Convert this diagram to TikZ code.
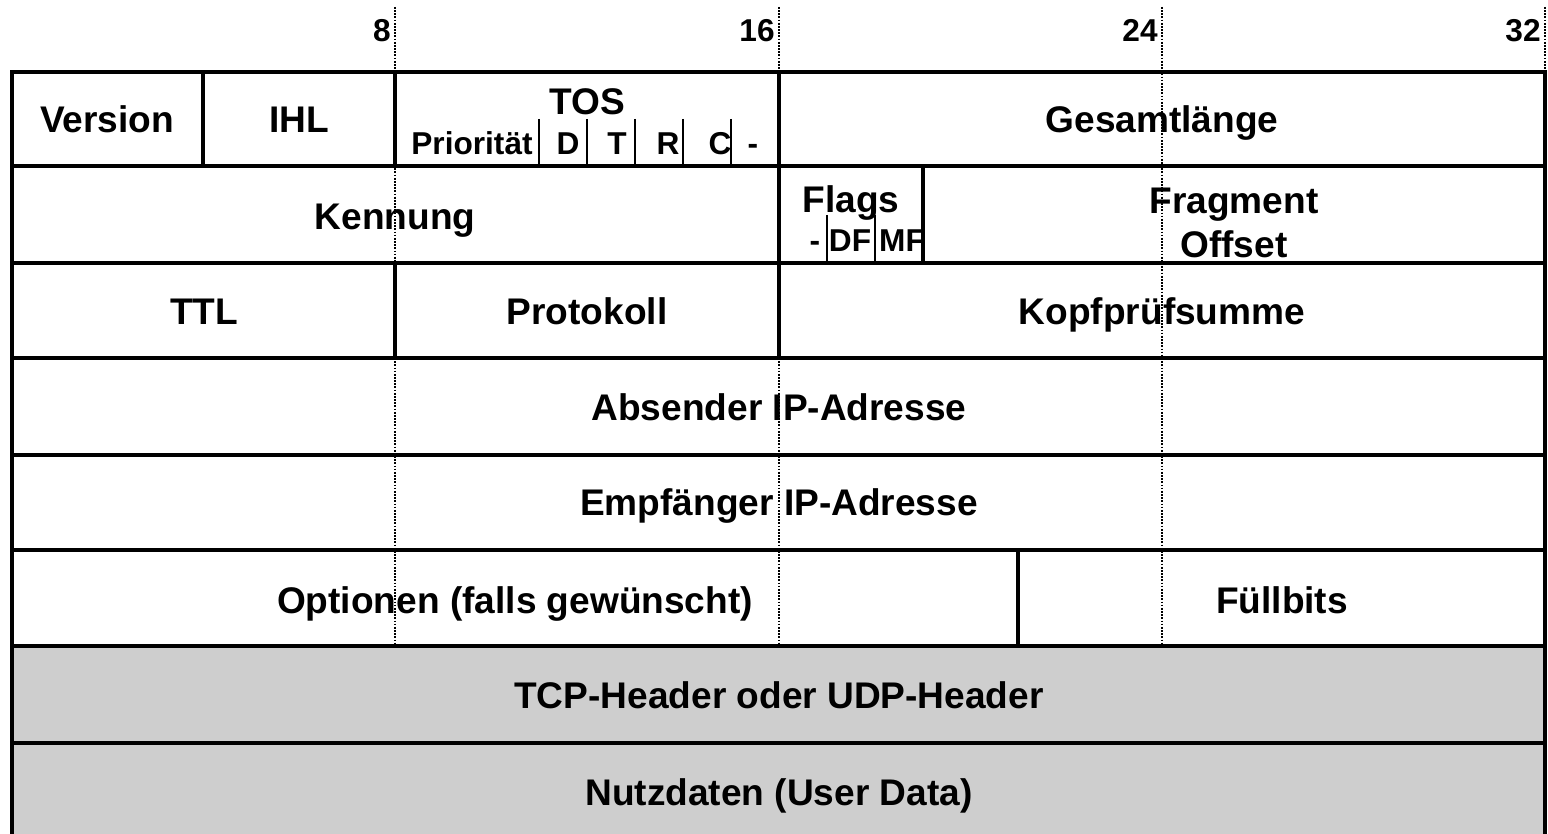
\documentclass[tikz,border=0pt]{standalone}
\usepackage{fontspec}
\setmainfont{Liberation Sans}
\usetikzlibrary{positioning}
\tikzset{>=stealth}
\definecolor{hdrgray}{RGB}{206,206,206}

\begin{document}
\begin{tikzpicture}[x=0.02cm,y=-0.02cm,
  cell/.style={draw,line width=1.8pt},
  graycell/.style={cell,fill=hdrgray},
  subline/.style={line width=0.9pt},
  bitmark/.style={line width=1pt,dash pattern=on 1pt off 0.8pt},
  lbl/.style={font=\fontsize{21.1}{25}\selectfont\bfseries,inner sep=0pt,anchor=base,align=center},
  sublbl/.style={font=\fontsize{18}{20}\selectfont\bfseries,inner sep=0pt,anchor=base},
  numlbl/.style={font=\fontsize{18}{20}\selectfont\bfseries,inner sep=0pt,anchor=base east}]
\useasboundingbox (0,0) rectangle (1548,834);
% row 1
\draw[cell] (12,72) rectangle (203,166);
\draw[cell] (203,72) rectangle (395,166);
\draw[cell] (395,72) rectangle (779,166);
\draw[cell] (779,72) rectangle (1545,166);
% row 2
\draw[cell] (12,166) rectangle (779,263);
\draw[cell] (779,166) rectangle (923,263);
\draw[cell] (923,166) rectangle (1545,263);
% row 3
\draw[cell] (12,263) rectangle (395,358);
\draw[cell] (395,263) rectangle (779,358);
\draw[cell] (779,263) rectangle (1545,358);
% rows 4 to 6
\draw[cell] (12,358) rectangle (1545,455);
\draw[cell] (12,455) rectangle (1545,550);
\draw[cell] (12,550) rectangle (1018,646);
\draw[cell] (1018,550) rectangle (1545,646);
% payload
\draw[graycell] (12,646) rectangle (1545,743);
\draw[graycell] (12,743) rectangle (1545,840);
% TOS and flag bits
\foreach \x in {539,587,635,683,731}
  \draw[subline] (\x,119) -- (\x,166);
\foreach \x in {827,875}
  \draw[subline] (\x,215) -- (\x,263);

\node[lbl] (version) at (107,133) {Version};
\node[lbl] (ihl) at (299,133) {IHL};
\node[lbl] (tos) at (587,115) {TOS};
\node[sublbl] (prio) at (472,155) {Priorität};
\node[sublbl] (tosd) at (568,155) {D};
\node[sublbl] (tost) at (617,155) {T};
\node[sublbl] (tosr) at (668,155) {R};
\node[sublbl] (tosc) at (720,155) {C};
\node[sublbl] (tosx) at (753,155) {-};
\node[lbl] (laenge) at (1162,133) {Gesamtlänge};

\node[lbl] (kennung) at (395,230) {Kennung};
\node[lbl] (flags) at (851,213) {Flags};
\node[sublbl] (flagx) at (815,252) {-};
\node[sublbl] (flagdf) at (850,252) {DF};
\node[sublbl] (flagmf) at (902,252) {MF};
\node[lbl,anchor=north] (fragoff) at (1234,188) {Fragment\\Offset};

\node[lbl] (ttl) at (204,325) {TTL};
\node[lbl] (proto) at (587,325) {Protokoll};
\node[lbl] (pruef) at (1162,325) {Kopfprüfsumme};
\node[lbl] (absender) at (779,420) {Absender IP-Adresse};
\node[lbl] (empfaenger) at (779,515) {Empfänger IP-Adresse};
\node[lbl] (optionen) at (515,613) {Optionen (falls gewünscht)};
\node[lbl] (fuell) at (1282,613) {Füllbits};
\node[lbl] (tcpudp) at (779,708) {TCP-Header oder UDP-Header};
\node[lbl] (nutzdaten) at (779,805) {Nutzdaten (User Data)};

% bit positions
\foreach \b/\x in {8/395,16/779,24/1162,32/1545}{
  \draw[bitmark] (\x,7) -- (\x,646);
  \node[numlbl] (bit\b) at (\x-4,42) {\b};
}
\end{tikzpicture}
\end{document}
